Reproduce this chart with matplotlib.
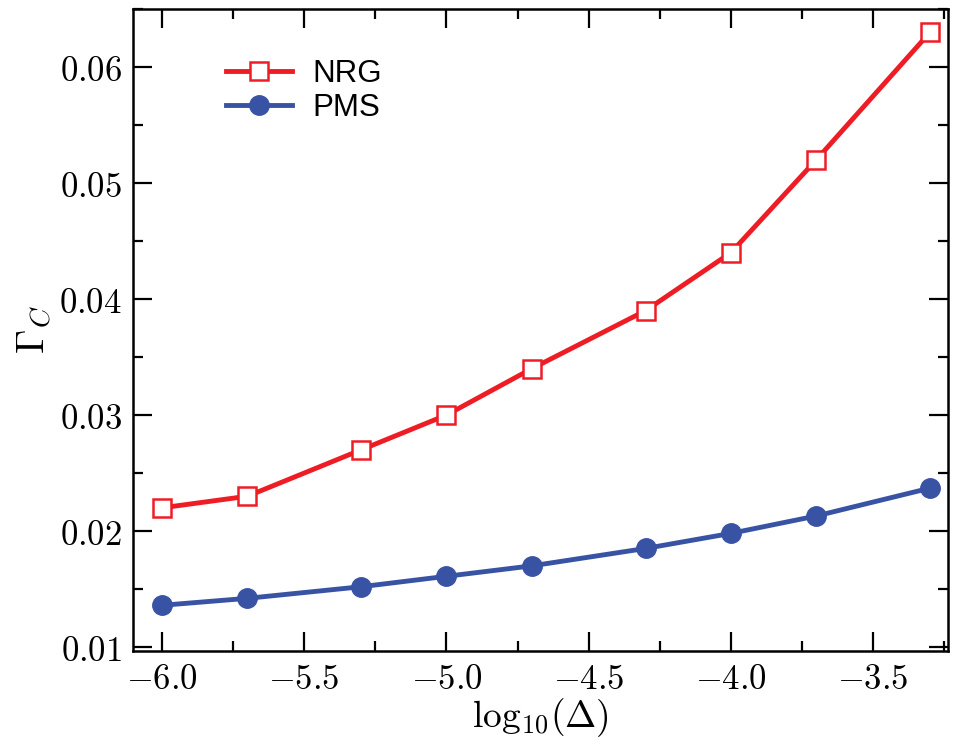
import matplotlib
matplotlib.use("Agg")
import matplotlib.pyplot as plt
from matplotlib.ticker import MultipleLocator, FuncFormatter

plt.rcParams["mathtext.fontset"] = "cm"

log_delta = [-6.0, -5.7, -5.3, -5.0, -4.7, -4.3, -4.0, -3.7, -3.3]
gamma_nrg = [0.022, 0.023, 0.027, 0.030, 0.034, 0.039, 0.044, 0.052, 0.063]
gamma_pms = [0.0136, 0.0142, 0.0152, 0.0161, 0.0170, 0.0185, 0.0198, 0.0213, 0.0237]

red = "#ee1d25"
blue = "#3953a4"

fig = plt.figure(figsize=(9.55, 7.45), dpi=100)
ax = fig.add_axes([133 / 955, 1 - 651 / 745, (948 - 133) / 955, (651 - 9) / 745])

ax.plot(log_delta, gamma_nrg, color=red, lw=3.5, marker="s", ms=13,
        mfc="white", mec=red, mew=1.8, label="NRG")
ax.plot(log_delta, gamma_pms, color=blue, lw=3.5, marker="o", ms=14,
        mfc=blue, mec=blue, label="PMS")

ax.set_xlim(-6.102, -3.237)
ax.set_ylim(0.00966, 0.065)

ax.xaxis.set_major_locator(MultipleLocator(0.5))
ax.xaxis.set_minor_locator(MultipleLocator(0.25))
ax.yaxis.set_major_locator(MultipleLocator(0.01))
ax.yaxis.set_minor_locator(MultipleLocator(0.005))
ax.xaxis.set_major_formatter(FuncFormatter(lambda v, p: r"$%.1f$" % v))
ax.yaxis.set_major_formatter(FuncFormatter(lambda v, p: r"$%.2f$" % v))

ax.tick_params(which="both", direction="in", top=True, right=True, width=1.6,
               labelsize=25, pad=8)
ax.tick_params(which="major", length=14)
ax.tick_params(which="minor", length=7)
for s in ax.spines.values():
    s.set_linewidth(1.8)

ax.set_xlabel(r"$\mathrm{log}_{10}(\Delta)$", fontsize=27, labelpad=0)
ax.set_ylabel(r"$\Gamma_C$", fontsize=28, labelpad=4)

leg = ax.legend(loc="upper left", bbox_to_anchor=(0.080, 0.966), frameon=False,
                prop={"family": "Liberation Sans", "size": 22.5},
                handlelength=2.1, handletextpad=0.65, labelspacing=0.12)

fig.savefig("out.png", dpi=100)
